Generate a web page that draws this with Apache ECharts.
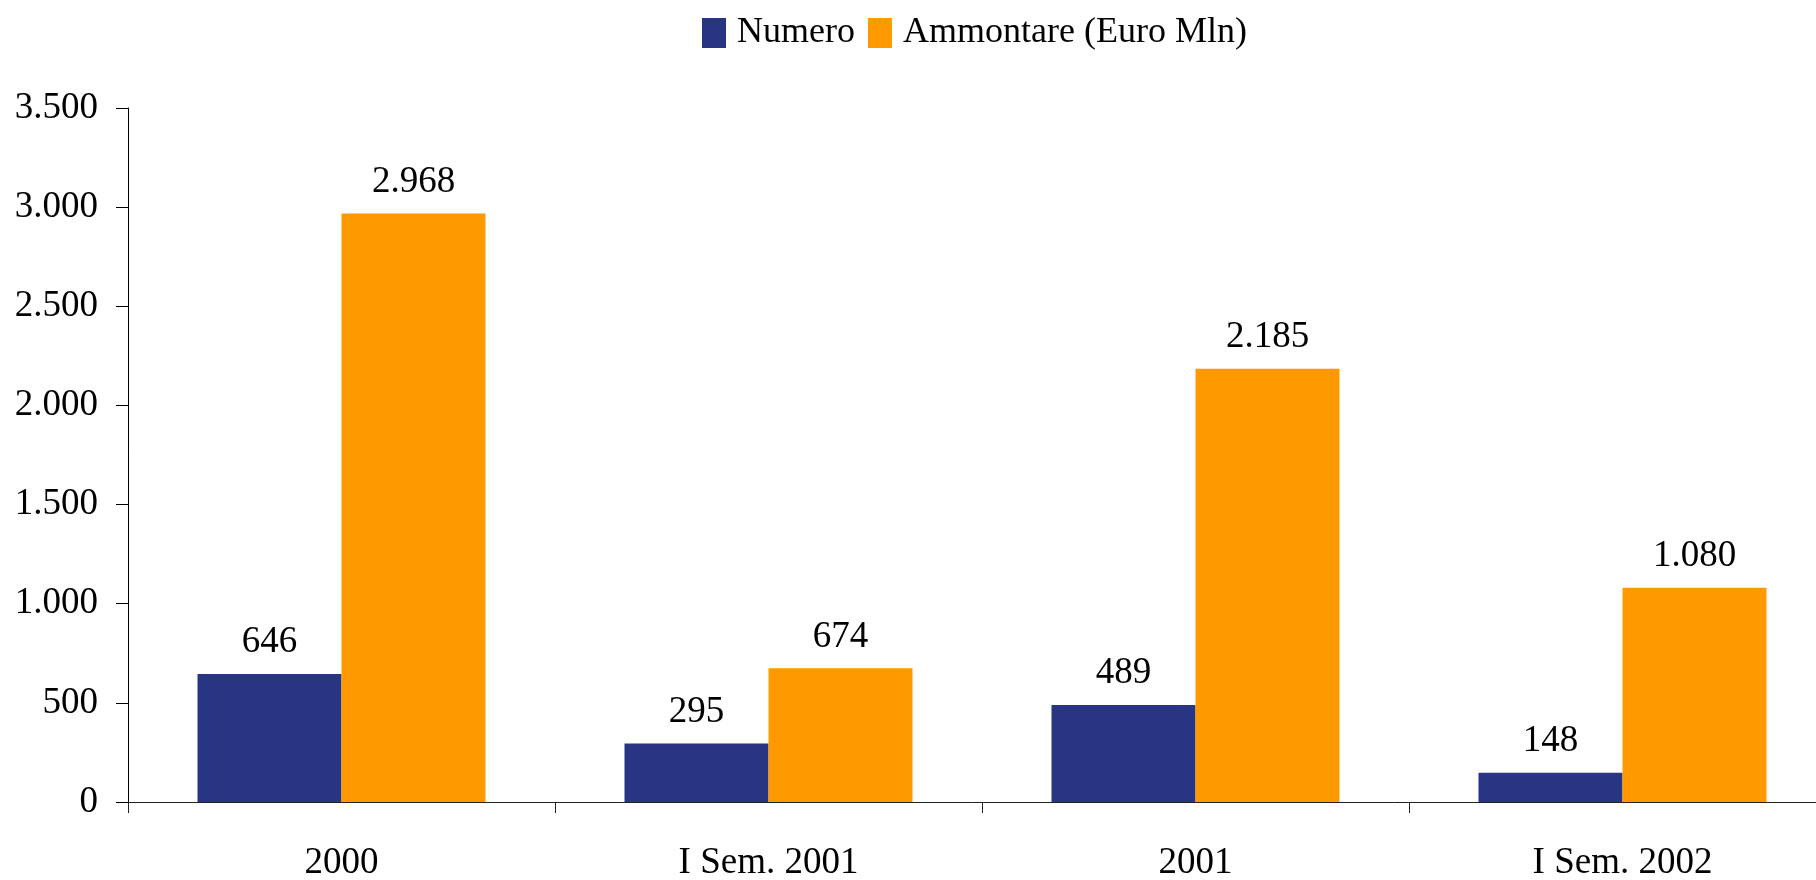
<!DOCTYPE html>
<html>
<head>
<meta charset="utf-8">
<script src="https://cdn.jsdelivr.net/npm/echarts@6/dist/echarts.min.js"></script>
<style>
  html, body { margin: 0; padding: 0; background: #fff; }
  #chart { width: 1816px; height: 880px; }
</style>
</head>
<body>
<div id="chart"></div>
<script>
// categorie e valori
const categories = ['2000', 'I Sem. 2001', '2001', 'I Sem. 2002']
const numero = [646, 295, 489, 148]
const ammontare = [2968, 674, 2185, 1080]
const seriesNames = ['Numero', 'Ammontare (Euro Mln)']

const FONT = "'Liberation Serif', 'Times New Roman', serif"

// separatore migliaia con il punto
const fmt = v => String(v).replace(/\B(?=(\d{3})+(?!\d))/g, '.')

const chart = echarts.init(document.getElementById('chart'))

const barLabel = {
  show: true,
  position: 'top',
  distance: 13,
  color: '#000',
  fontFamily: FONT,
  fontSize: 37,
  formatter: p => fmt(p.value)
}

chart.setOption({
  animation: false,
  textStyle: { fontFamily: FONT, color: '#000' },
  legend: {
    left: 697,
    top: 10,
    itemWidth: 24,
    itemHeight: 30,
    itemGap: 13,
    icon: 'rect',
    textStyle: { fontFamily: FONT, fontSize: 36, color: '#000', padding: [0, 0, 0, 6] },
    data: seriesNames
  },
  grid: { left: 128, right: -20, top: 108, bottom: 78, outerBoundsMode: 'none', containLabel: false },
  xAxis: {
    type: 'category',
    data: categories,
    axisLine: { lineStyle: { color: '#222', width: 1 } },
    axisTick: { show: true, length: 11, lineStyle: { color: '#222' } },
    axisLabel: { interval: 0, margin: 43, fontFamily: FONT, fontSize: 37, color: '#000' }
  },
  yAxis: {
    type: 'value',
    min: 0,
    max: 3500,
    interval: 500,
    splitLine: { show: false },
    axisLine: { show: true, lineStyle: { color: '#000', width: 1 } },
    axisTick: { show: true, length: 12, lineStyle: { color: '#000' } },
    axisLabel: { margin: 30, fontFamily: FONT, fontSize: 37, color: '#000', formatter: fmt }
  },
  series: [
    {
      name: seriesNames[0],
      type: 'bar',
      data: numero,
      barWidth: 144,
      barGap: '0%',
      itemStyle: { color: '#283582' },
      label: barLabel
    },
    {
      name: seriesNames[1],
      type: 'bar',
      data: ammontare,
      barWidth: 144,
      barGap: '0%',
      itemStyle: { color: '#FF9900' },
      label: barLabel
    }
  ]
})
</script>
</body>
</html>
